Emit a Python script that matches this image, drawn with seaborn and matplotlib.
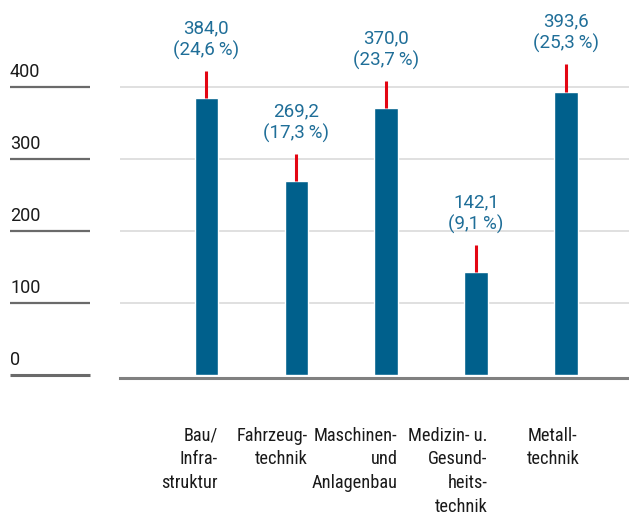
import matplotlib
matplotlib.use("Agg")
import matplotlib.pyplot as plt
import matplotlib.transforms as mtransforms
import seaborn as sns
import pandas as pd

# ---- data ----
categories = ["Bau/\nInfra-\nstruktur", "Fahrzeug-\ntechnik",
              "Maschinen-\nund\nAnlagenbau",
              "Medizin- u.\nGesund-\nheits-\ntechnik", "Metall-\ntechnik"]
values = [384.0, 269.2, 370.0, 142.1, 393.6]
shares = [24.6, 17.3, 23.7, 9.1, 25.3]
yticks = [0, 100, 200, 300, 400]
ytick_labels = ["0", "100", "200", "300", "400"]

# ---- style ----
BAR = "#00608c"
RED = "#e30613"
LBL = "#1f6e98"
GRID = "#dddddd"
BASE = "#808080"
NUM_FONT = ["Roboto", "DejaVu Sans"]
CAT_FONT = ["Roboto Condensed", "Roboto", "DejaVu Sans"]

sns.set_theme(style="white")
plt.rcParams["font.family"] = NUM_FONT

W, H = 629, 515
fig = plt.figure(figsize=(W / 100, H / 100), dpi=100)
zero_px = 374.5
ax = fig.add_axes([120 / W, (H - zero_px) / H, 1 - 120 / W, zero_px / H])

df = pd.DataFrame({"cat": categories, "val": values})
sns.barplot(data=df, x="cat", y="val", color=BAR, saturation=1,
            width=0.256, ax=ax, zorder=3)

px_per_unit = 0.719
ax.set_ylim(0, zero_px / px_per_unit)
ax.set_xlim(-0.956, 4.7)

# gridlines
for t in yticks[1:]:
    ax.axhline(t, color=GRID, lw=1.3, zorder=1)

for s in ["top", "right", "left"]:
    ax.spines[s].set_visible(False)
ax.spines["bottom"].set_color(BASE)
ax.spines["bottom"].set_linewidth(2.2)
ax.spines["bottom"].set_position(("outward", 2.5))
ax.set_xticks([])
ax.set_yticks([])
ax.set_xlabel("")
ax.set_ylabel("")

# y tick labels with short underlines on the far left
trans = mtransforms.blended_transform_factory(ax.transAxes, ax.transData)
up = mtransforms.ScaledTranslation(0, 4 / 72, fig.dpi_scale_trans)
for t, lab in zip(yticks, ytick_labels):
    ax.plot([-0.216, -0.059], [t, t], transform=trans, color="#6a6a6a",
            lw=1.6 if t else 2.2, clip_on=False, solid_capstyle="butt")
    ax.text(-0.216, t, lab, transform=trans + up, ha="left", va="bottom",
            fontsize=13, color="#1a1a1a", family=NUM_FONT)

# red indicator lines and value labels
ext = 38
xs = list(range(len(values)))
ax.vlines(xs, values, [v + ext for v in values], color=RED, lw=2.2, zorder=4)
for i, (v, s) in enumerate(zip(values, shares)):
    lab = f"{v:.1f}".replace(".", ",") + "\n" + f"({s:.1f}\u2009%)".replace(".", ",")
    ax.annotate(lab, xy=(i, v + ext), xytext=(0, 8), textcoords="offset points",
                ha="center", va="bottom", fontsize=13.5, color=LBL,
                linespacing=1.22, annotation_clip=False, family=NUM_FONT)

# category labels
half = 0.128
for i, c in enumerate(categories):
    if i == len(categories) - 1:
        x, ha = i - 0.43, "left"
    else:
        x, ha = i + half, "right"
    ax.annotate(c, xy=(x, 0), xytext=(0, -37.5), textcoords="offset points",
                ha=ha, va="top", multialignment=ha, fontsize=13.2,
                color="#1a1a1a", linespacing=1.41, annotation_clip=False,
                family=CAT_FONT)

fig.savefig("out.png", dpi=100)
